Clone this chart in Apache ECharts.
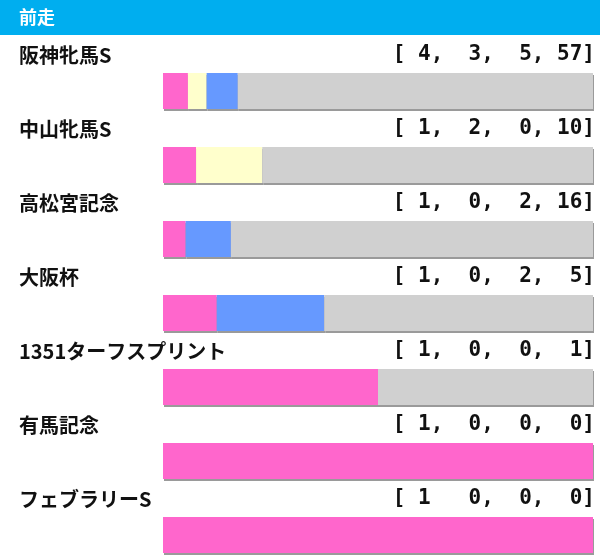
<!DOCTYPE html>
<html>
<head>
<meta charset="utf-8">
<script src="https://cdn.jsdelivr.net/npm/echarts@6/dist/echarts.min.js"></script>
<style>
  html, body { margin: 0; padding: 0; background: #fff; }
  #chart { width: 600px; height: 557px; }
</style>
</head>
<body>
<div id="chart"></div>
<script>
const races = ['阪神牝馬S', '中山牝馬S', '高松宮記念', '大阪杯', '1351ターフスプリント', '有馬記念', 'フェブラリーS'];
const first = [4, 1, 1, 1, 1, 1, 1];
const second = [3, 2, 0, 0, 0, 0, 0];
const third = [5, 0, 2, 2, 0, 0, 0];
const other = [57, 10, 16, 5, 1, 0, 0];
const recordTexts = ['[ 4,  3,  5, 57]', '[ 1,  2,  0, 10]', '[ 1,  0,  2, 16]', '[ 1,  0,  2,  5]',
  '[ 1,  0,  0,  1]', '[ 1,  0,  0,  0]', '[ 1   0,  0,  0]'];

const totals = races.map((_, i) => first[i] + second[i] + third[i] + other[i]);
const ratio = arr => arr.map((v, i) => v / totals[i]);

const chart = echarts.init(document.getElementById('chart'));
const shadow = { shadowColor: '#9a9a9a', shadowOffsetX: 1, shadowOffsetY: 2, shadowBlur: 0 };
const bar = (name, data, color, label) => ({
  name, type: 'bar', stack: 'all', barWidth: 36, data: ratio(data),
  itemStyle: Object.assign({ color }, shadow), silent: true,
  label: label || { show: false }
});

// race name above the bar, left side
const nameLabel = {
  show: true, position: [-144, -18], align: 'left', verticalAlign: 'middle',
  formatter: p => races[p.dataIndex],
  color: '#111', fontSize: 20, fontWeight: 'bold', fontFamily: '"Noto Sans CJK JP", sans-serif'
};
// record [1着, 2着, 3着, 着外] above the bar, right side
const recordLabel = {
  show: true, position: ['100%', -18], offset: [2, 0], align: 'right', verticalAlign: 'middle',
  formatter: p => recordTexts[p.dataIndex],
  color: '#111', fontSize: 21, fontWeight: 'bold', fontFamily: '"DejaVu Sans Mono", monospace'
};

chart.setOption({
  animation: false,
  graphic: [{
    type: 'rect', left: 0, top: 0, shape: { width: 600, height: 35 },
    style: { fill: '#00AEEF' }
  }, {
    type: 'text', left: 19, top: 8,
    style: { text: '前走', fill: '#fff', font: 'bold 18px "Noto Sans CJK JP"' }
  }],
  grid: { left: 163, right: 7, top: 54, height: 518, outerBoundsMode: 'none' },
  xAxis: { type: 'value', min: 0, max: 1, show: false },
  yAxis: {
    type: 'category', data: races, inverse: true, show: false
  },
  series: [
    bar('1着', first, '#FF66CC', nameLabel),
    bar('2着', second, '#FFFFCC'),
    bar('3着', third, '#6699FF'),
    bar('着外', other, '#D0D0D0', recordLabel)
  ]
});
</script>
</body>
</html>
